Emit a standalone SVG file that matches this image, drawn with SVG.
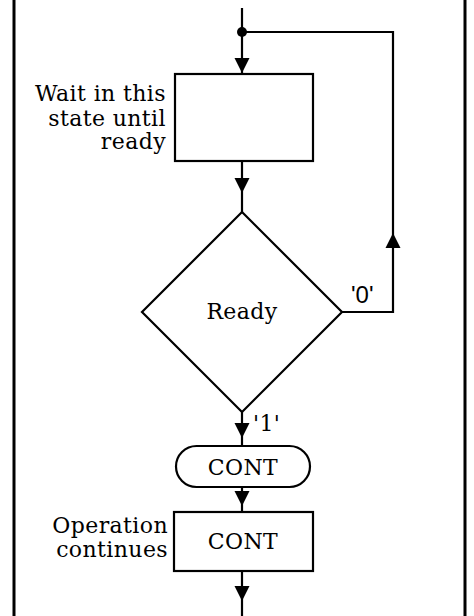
<svg xmlns="http://www.w3.org/2000/svg" width="474" height="616" viewBox="0 0 474 616">
<style>
.ln{fill:none;stroke:#000;stroke-width:2.2}
.sh{fill:#fff;stroke:#000;stroke-width:2.2}
.ah{fill:#000;stroke:none}
.t{font-family:"DejaVu Serif","Liberation Serif",serif;font-size:22px;letter-spacing:0.4px;fill:#000}
.s{font-family:"Liberation Sans",Arial,sans-serif;font-size:24px;fill:#000}
</style>
<defs>
<polygon id="down" points="-7.5,-15 7.5,-15 0,0"/>
<polygon id="up" points="-7.5,15 7.5,15 0,0"/>
</defs>
<g id="frame">
<line x1="14" y1="0" x2="14" y2="616" stroke="#000" stroke-width="3"/>
<line x1="465" y1="0" x2="465" y2="616" stroke="#000" stroke-width="3"/>
</g>
<g id="connectors">
<line class="ln" x1="242" y1="8" x2="242" y2="74"/>
<circle cx="242" cy="32" r="5" fill="#000"/>
<polyline class="ln" points="242,32 393,32 393,312 342,312"/>
<use href="#down" class="ah" x="242" y="73"/>
<use href="#up" class="ah" x="393" y="233"/>
<line class="ln" x1="242" y1="161" x2="242" y2="212"/>
<use href="#down" class="ah" x="242" y="193"/>
<line class="ln" x1="242" y1="412" x2="242" y2="446"/>
<use href="#down" class="ah" x="242" y="438"/>
<line class="ln" x1="242" y1="487" x2="242" y2="512"/>
<use href="#down" class="ah" x="242" y="506"/>
<line class="ln" x1="242" y1="571" x2="242" y2="616"/>
<use href="#down" class="ah" x="242" y="601"/>
<text class="s" x="351" y="303">'0'</text>
<text class="t" x="253" y="431">'1'</text>
</g>
<g id="wait">
<rect class="sh" x="175" y="74" width="138" height="87"/>
<text class="t" text-anchor="end" x="166" y="101">Wait in this</text>
<text class="t" text-anchor="end" x="166" y="126">state until</text>
<text class="t" text-anchor="end" x="166" y="149">ready</text>
</g>
<g id="ready">
<polygon class="sh" points="242,212 342,312 242,412 142,312"/>
<text class="t" text-anchor="middle" x="242" y="319">Ready</text>
</g>
<g id="cont-term">
<rect class="sh" x="176" y="446" width="134" height="41" rx="20.5" ry="20.5"/>
<text class="t" text-anchor="middle" x="243" y="475">CONT</text>
</g>
<g id="cont-op">
<rect class="sh" x="174" y="512" width="139" height="59"/>
<text class="t" text-anchor="middle" x="243" y="549">CONT</text>
<text class="t" text-anchor="end" x="168" y="533">Operation</text>
<text class="t" text-anchor="end" x="168" y="557">continues</text>
</g>
</svg>
